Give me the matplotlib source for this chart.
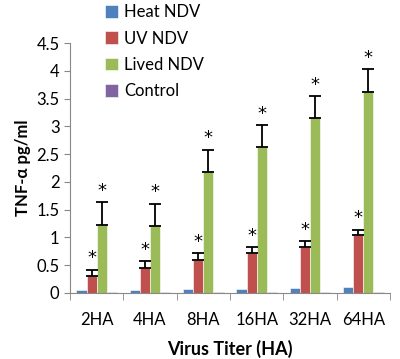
import matplotlib.pyplot as plt
import numpy as np

plt.rcParams['font.family'] = ['Lato', 'DejaVu Sans']

titers = ["2HA", "4HA", "8HA", "16HA", "32HA", "64HA"]
heat = [0.05, 0.06, 0.07, 0.08, 0.09, 0.10]
uv = [0.31, 0.45, 0.60, 0.72, 0.83, 1.04]
uv_err = [0.11, 0.12, 0.12, 0.10, 0.10, 0.10]
lived = [1.22, 1.21, 2.17, 2.62, 3.15, 3.62]
lived_err = [0.41, 0.40, 0.41, 0.40, 0.40, 0.41]
control = [0.02, 0.02, 0.02, 0.02, 0.02, 0.02]

fig = plt.figure(figsize=(4, 3.59), dpi=100)
ax = fig.add_axes([0.175, 0.184, 0.80, 0.696])

x = np.arange(len(titers))
w = 0.19
colors = ["#4F81BD", "#C0504D", "#9BBB59", "#8064A2"]
names = ["Heat NDV", "UV NDV", "Lived NDV", "Control"]
series = [heat, uv, lived, control]
errs = [None, uv_err, lived_err, None]

for i, (vals, c, n, e) in enumerate(zip(series, colors, names, errs)):
    pos = x + (i - 1.5) * w
    ax.bar(pos, vals, w, color=c, label=n, edgecolor="white", linewidth=0.4)
    if e is not None:
        ax.errorbar(pos, vals, yerr=[np.zeros(len(e)), e], fmt="none",
                    ecolor="black", elinewidth=1.3, capsize=4, capthick=1.3)
        for p, v, ee in zip(pos, vals, e):
            ax.text(p, v + ee + 0.04, "*", ha="center", va="bottom",
                    fontsize=13, family="DejaVu Sans")

ax.set_ylim(0, 4.5)
ax.set_xlim(-0.5, len(titers) - 0.5)
ax.set_yticks(np.arange(0, 4.51, 0.5))
ax.set_yticklabels(["0", "0.5", "1", "1.5", "2", "2.5", "3", "3.5", "4", "4.5"])
ax.set_xticks(x)
ax.set_xticklabels(titers)
ax.set_xticks(np.arange(-0.5, len(titers), 1), minor=True)
ax.tick_params(axis="x", which="major", length=0, pad=14, labelsize=12)
ax.tick_params(axis="x", which="minor", length=5, color="#888888")
ax.tick_params(axis="y", length=4, color="#888888", labelsize=12)
for s in ["top", "right"]:
    ax.spines[s].set_visible(False)
for s in ["left", "bottom"]:
    ax.spines[s].set_color("#888888")

ax.set_ylabel("TNF-α pg/ml", fontweight="bold", fontsize=12)
ax.set_xlabel("Virus Titer (HA)", fontweight="bold", fontsize=13, labelpad=8)

fig.legend(loc="upper left", bbox_to_anchor=(0.225, 1.03), frameon=False,
           fontsize=12, handlelength=0.8, handleheight=0.8, handletextpad=0.35,
           labelspacing=0.62)

fig.savefig("out.png", dpi=100)
